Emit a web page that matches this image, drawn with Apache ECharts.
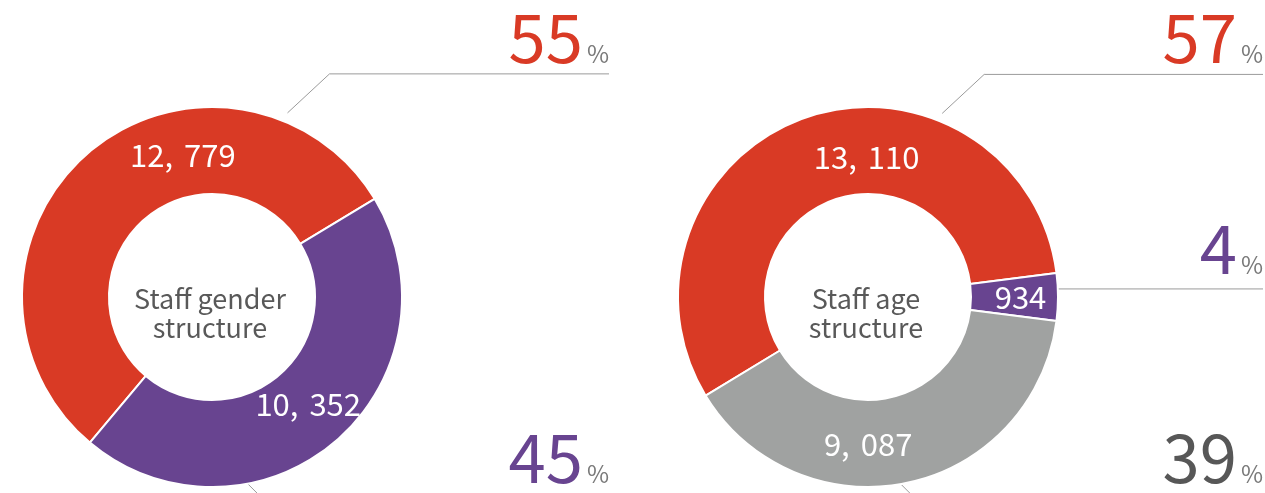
<!DOCTYPE html>
<html>
<head>
<meta charset="utf-8">
<script src="https://cdn.jsdelivr.net/npm/echarts@6/dist/echarts.min.js"></script>
<style>
html,body{margin:0;padding:0;background:#fff;}
#c{width:1265px;height:493px;}
</style>
</head>
<body>
<div id="c"></div>
<script>
// ---------- data ----------
const genderNames = ['Group A', 'Group B'];
const genderValues = [12779, 10352];
const ageNames = ['Group A', 'Group B', 'Group C'];
const ageValues = [13110, 934, 9087];
const chartTitles = ['Staff gender\nstructure', 'Staff age\nstructure'];

// ---------- styles / layout ----------
const RED = '#D93A25', PURPLE = '#684490', GREY = '#A0A2A1', DARK = '#575757';
const FONT = '"Noto Sans CJK SC", "Noto Sans", sans-serif';
const LINE = '#9b9b9b';

function polar(c, angDeg, r) {
  const a = angDeg * Math.PI / 180;
  return [c[0] + r * Math.cos(a), c[1] - r * Math.sin(a)];
}

const charts = [
  {
    names: genderNames, values: genderValues, title: chartTitles[0],
    colors: [RED, PURPLE], pctColors: [RED, PURPLE],
    center: [212, 297], startAngle: 230,
    valueOffsets: [[68, -28], [-1, -6]],
    pct: [
      { anchor: [67.7, 199], elbow: [42, -39], endX: 609, baseY: 62 },
      { anchor: [-84.2, 169], elbow: [45, 45], endX: 609, baseY: 482 }
    ]
  },
  {
    names: ageNames, values: ageValues, title: chartTitles[1],
    colors: [RED, PURPLE, GREY], pctColors: [RED, PURPLE, DARK],
    center: [868, 297], startAngle: 211.3,
    valueOffsets: [[48, 1], [3, 0], [-31, 1]],
    pct: [
      { anchor: [68, 198], elbow: [42, -39], endX: 1263, baseY: 62 },
      { anchor: [2.5, 185], elbow: [0, 0], endX: 1263, baseY: 273 },
      { anchor: [-85.2, 169], elbow: [45, 45], endX: 1263, baseY: 482 }
    ]
  }
];
const RADIUS = [103, 190];

// thousands separator, with a little extra space after the comma (as in the reference)
function fmtRich(v) {
  const parts = String(v).replace(/\B(?=(\d{3})+(?!\d))/g, ',').split(',');
  return parts.map(function (s, i) {
    return (i === 0 ? '{f|' : '{g|') + s + (i < parts.length - 1 ? ',' : '') + '}';
  }).join('');
}

const valueRich = {
  f: { fontFamily: FONT, fontSize: 31, color: '#fff' },
  g: { fontFamily: FONT, fontSize: 31, color: '#fff', padding: [0, 0, 0, 11] }
};

const series = [];
charts.forEach(function (c) {
  // ring with value labels
  series.push({
    type: 'pie',
    silent: true,
    center: c.center,
    radius: RADIUS,
    startAngle: c.startAngle,
    avoidLabelOverlap: false,
    emphasis: { disabled: true },
    itemStyle: { borderColor: '#fff', borderWidth: 2 },
    label: {
      show: true, position: 'inside', color: '#fff',
      fontFamily: FONT, fontSize: 31,
      formatter: function (p) { return fmtRich(p.value); },
      rich: valueRich
    },
    labelLine: { show: false },
    labelLayout: function (p) {
      const off = c.valueOffsets[p.dataIndex];
      const r = p.labelRect;
      return { x: r.x + r.width / 2 + off[0], y: r.y + r.height / 2 + off[1], align: 'center', verticalAlign: 'middle' };
    },
    data: c.values.map(function (v, i) {
      return { name: c.names[i], value: v, itemStyle: { color: c.colors[i] } };
    })
  });
  // transparent overlay carrying the percentage labels
  const rich = { p: { fontSize: 24, color: '#7a7a7a', fontFamily: FONT, verticalAlign: 'bottom', align: 'right', padding: [0, 0, 5, 4] } };
  c.pctColors.forEach(function (col, i) {
    rich['n' + i] = { fontSize: 67, color: col, fontFamily: FONT, lineHeight: 67, verticalAlign: 'bottom', align: 'right' };
  });
  series.push({
    type: 'pie',
    silent: true,
    center: c.center,
    radius: RADIUS,
    startAngle: c.startAngle,
    avoidLabelOverlap: false,
    emphasis: { disabled: true },
    itemStyle: { color: 'rgba(0,0,0,0)', borderWidth: 0 },
    label: {
      show: true, position: 'outside', width: 160, overflow: 'none',
      formatter: function (p) { return '{n' + p.dataIndex + '|' + Math.round(p.percent) + '}{p|%}'; },
      rich: rich
    },
    labelLine: { show: true, length: 8, length2: 8, smooth: false, lineStyle: { color: LINE, width: 1 } },
    labelLayout: function (p) {
      const L = c.pct[p.dataIndex];
      const s = polar(c.center, L.anchor[0], L.anchor[1]);
      const e = [s[0] + L.elbow[0], s[1] + L.elbow[1]];
      const f = [L.endX, e[1]];
      return {
        x: L.endX, y: L.baseY + 9, align: 'right', verticalAlign: 'bottom',
        labelLinePoints: [s, e, f]
      };
    },
    data: c.values.map(function (v, i) { return { name: c.names[i], value: v }; })
  });
});

const chart = echarts.init(document.getElementById('c'), null, { renderer: 'canvas' });
chart.setOption({
  backgroundColor: '#fff',
  animation: false,
  series: series,
  graphic: charts.map(function (c) {
    return {
      type: 'text', x: c.center[0] - 2, y: c.center[1] + 16, silent: true,
      style: { text: c.title, align: 'center', verticalAlign: 'middle', fontFamily: FONT, fontSize: 27, lineHeight: 29, fill: '#595959' }
    };
  })
});
</script>
</body>
</html>
